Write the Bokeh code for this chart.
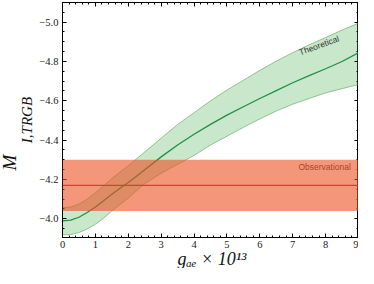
from bokeh.plotting import figure
from bokeh.models import (Range1d, LinearAxis, FixedTicker, ColumnDataSource,
                          BoxAnnotation, Span, Title)
from bokeh.embed import file_html
from bokeh.resources import INLINE
from bokeh.core.properties import value

# ---------------- data ----------------
g_ae = [0.0, 0.25, 0.5, 0.75, 1.0, 1.25, 1.5, 1.75, 2.0, 2.25, 2.5, 3.0, 3.5, 4.0, 4.5,
        5.0, 5.5, 6.0, 6.5, 7.0, 7.5, 8.0, 8.5, 9.0]
m_theory = [-3.990, -3.993, -4.008, -4.032, -4.060, -4.092, -4.125, -4.155, -4.185, -4.217,
            -4.250, -4.315, -4.375, -4.430, -4.480, -4.527, -4.570, -4.612, -4.652, -4.692,
            -4.728, -4.763, -4.800, -4.845]
m_theory_bright = [-4.056, -4.060, -4.075, -4.100, -4.132, -4.168, -4.205, -4.238, -4.270, -4.305,
                   -4.340, -4.410, -4.480, -4.540, -4.600, -4.655, -4.705, -4.755, -4.802, -4.845,
                   -4.885, -4.922, -4.960, -4.995]
m_theory_faint = [-3.918, -3.920, -3.930, -3.948, -3.972, -4.003, -4.040, -4.073, -4.105, -4.143,
                  -4.178, -4.232, -4.277, -4.322, -4.375, -4.420, -4.465, -4.508, -4.548, -4.583,
                  -4.612, -4.640, -4.662, -4.683]
obs_center = -4.17
obs_err = 0.13

x_ticks = [0, 1, 2, 3, 4, 5, 6, 7, 8, 9]
y_ticks = [-5.0, -4.8, -4.6, -4.4, -4.2, -4.0]
y_tick_labels = ["\u22125.0", "\u22124.8", "\u22124.6", "\u22124.4", "\u22124.2", "\u22124.0"]

x_label = "g\u2090\u2091 \u00d7 10\u00b9\u00b3"
y_label_main = "M"
y_label_sub = "I,TRGB"
theory_text = "Theoretical"
obs_text = "Observational"

# ---------------- figure ----------------
SERIF = "Liberation Serif"
SANS = "Liberation Sans"

p = figure(width=358, height=268, output_backend="svg", toolbar_location=None,
           x_range=Range1d(0, 9), y_range=Range1d(-3.905, -5.1),
           min_border_left=0, min_border_right=0, min_border_top=2, min_border_bottom=0,
           x_axis_location=None, y_axis_location=None)
p.grid.visible = False
p.outline_line_color = "black"
p.outline_line_width = 1
p.background_fill_color = "white"
p.border_fill_color = "white"

xt = FixedTicker(ticks=x_ticks, minor_ticks=[i * 0.2 for i in range(46)])
yt = FixedTicker(ticks=y_ticks, minor_ticks=[-5.1 + i * 0.05 for i in range(25)])


def style_axis(ax, show_labels):
    ax.axis_line_color = "black"
    ax.major_tick_in = 4
    ax.major_tick_out = 0
    ax.minor_tick_in = 2
    ax.minor_tick_out = 0
    ax.major_tick_line_color = "black"
    ax.minor_tick_line_color = "black"
    ax.major_label_text_font = SERIF
    ax.major_label_text_font_size = "10.5px" if show_labels else "0px"
    ax.major_label_text_color = "#1a1a1a" if show_labels else None
    ax.major_label_standoff = 3 if show_labels else 0


bottom = LinearAxis(ticker=xt)
style_axis(bottom, True)

top = LinearAxis(ticker=xt)
style_axis(top, False)

left = LinearAxis(ticker=yt, major_label_overrides=dict(zip(y_ticks, y_tick_labels)),
                  axis_label=y_label_sub)
style_axis(left, True)
left.major_label_standoff = 4
left.axis_label_text_font = SERIF
left.axis_label_text_font_style = "italic"
left.axis_label_text_font_size = "15px"
left.axis_label_text_color = "#111111"
left.axis_label_standoff = 1

right = LinearAxis(ticker=yt)
style_axis(right, False)
right.major_label_standoff = -5

p.add_layout(bottom, "below")
p.add_layout(top, "above")
p.add_layout(left, "left")
p.add_layout(right, "right")

# x label as a side title under the axis (slightly right of centre, as in the reference)
x_title = Title(text=x_label, align="left", offset=115, vertical_align="top", standoff=-4,
                text_font=SERIF, text_font_style="italic", text_font_size="18px",
                text_color="#111111")
p.add_layout(x_title, "below")

# the large italic M of the y label, set as a rotated side title next to the subscript
m_title = Title(text=y_label_main, align="left", offset=67, vertical_align="bottom",
                standoff=-7, text_font=SERIF, text_font_style="italic",
                text_font_size="19px", text_color="#111111")
p.add_layout(m_title, "left")

# theory band
src = ColumnDataSource(dict(x=g_ae, m=m_theory, hi=m_theory_bright, lo=m_theory_faint))
p.varea(x="x", y1="hi", y2="lo", source=src, fill_color="#4caf50", fill_alpha=0.3)
p.line(x="x", y="hi", source=src, line_color="#4a9a4a", line_alpha=0.6, line_width=0.9)
p.line(x="x", y="lo", source=src, line_color="#4a9a4a", line_alpha=0.6, line_width=0.9)
p.line(x="x", y="m", source=src, line_color="#1f8f45", line_width=1.3)

# observational band, drawn translucent over the theory band
obs_band = BoxAnnotation(bottom=obs_center + obs_err, top=obs_center - obs_err,
                         fill_color="#ed5021", fill_alpha=0.6, line_color=None)
p.add_layout(obs_band)
p.add_layout(Span(location=obs_center, dimension="width", line_color="#f5302e",
                  line_width=1.4, level="overlay"))

# in-plot annotations
p.text(x=[7.8], y=[-4.882], text=[theory_text], angle=0.35, text_align="center",
       text_baseline="middle", text_font=value(SANS), text_font_size="8.5px", text_color="#333333")
p.text(x=[7.97], y=[-4.262], text=[obs_text], text_align="center",
       text_baseline="middle", text_font=value(SANS), text_font_size="8.5px", text_color="#333333")

open("out.html", "w").write(file_html(p, INLINE))
